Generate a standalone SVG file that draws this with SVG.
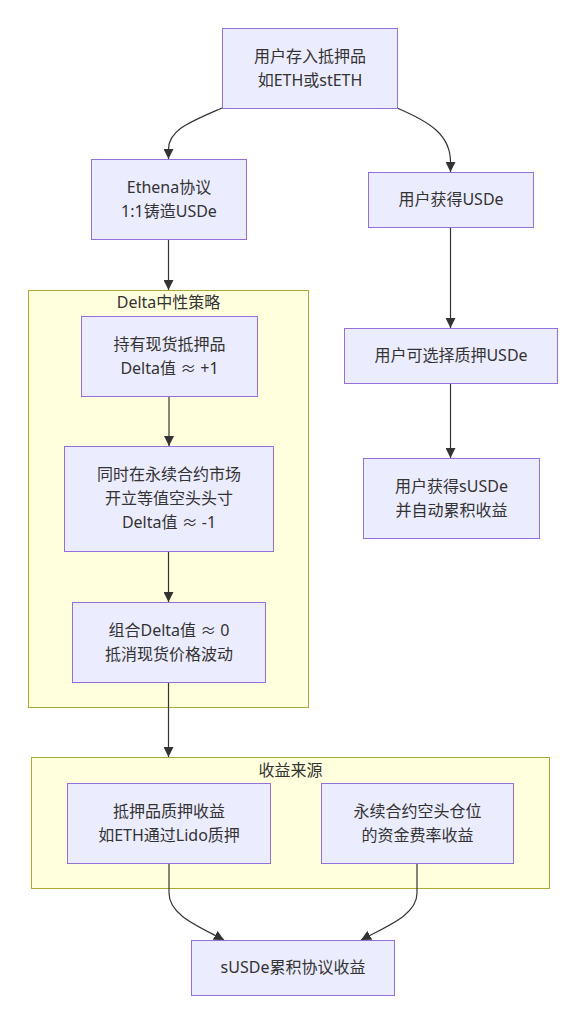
<svg xmlns="http://www.w3.org/2000/svg" width="586" height="1024" viewBox="0 0 586 1024">
<defs>
<marker id="arrow" markerUnits="userSpaceOnUse" markerWidth="10" markerHeight="10" viewBox="0 0 10 10" refX="10" refY="5" orient="auto">
<path d="M0,0 L10,5 L0,10 z" fill="#333333"/>
</marker>
<style>
.node rect{fill:#ECECFF;stroke:#9370DB;stroke-width:1;}
.cluster rect{fill:#ffffde;stroke:#aaaa33;stroke-width:1;}
text{font-family:"Noto Sans","Noto Sans CJK SC",sans-serif;font-size:16px;fill:#333333;text-anchor:middle;}
.edges path{fill:none;stroke:#333333;stroke-width:1.2;marker-end:url(#arrow);}
</style>
</defs>
<rect width="586" height="1024" fill="#ffffff"/>
<g id="cluster-delta" class="cluster">
<rect x="28.5" y="290.5" width="280" height="417"/>
<text x="168.5" y="308">Delta中性策略</text>
</g>
<g id="cluster-yield" class="cluster">
<rect x="31.5" y="757.5" width="518" height="131"/>
<text x="290.5" y="776">收益来源</text>
</g>
<g class="edges" id="edges">
<path d="M222,108 C190,122 168,130 168.5,150 L168.5,159"/>
<path d="M397,108 C430,122 451,135 450.5,163 L450.5,172"/>
<path d="M168.5,239 L168.5,290"/>
<path d="M169,396 L169,446"/>
<path d="M168.5,551 L168.5,602"/>
<path d="M168.5,682 L168.5,757"/>
<path d="M450.5,227 L450.5,328"/>
<path d="M450.5,383 L450.5,458"/>
<path d="M169,863 L169,893 C169,915 198,926 224,940"/>
<path d="M417,863 L417,893 C417,915 387,926 361,940"/>
</g>
<g id="A" class="node">
<rect x="222.5" y="28.5" width="175" height="80"/>
<text x="310" y="62">用户存入抵押品</text>
<text x="310" y="86">如ETH或stETH</text>
</g>
<g id="B" class="node">
<rect x="91.5" y="159.5" width="155" height="80"/>
<text x="169" y="193">Ethena协议</text>
<text x="169" y="217">1:1铸造USDe</text>
</g>
<g id="C" class="node">
<rect x="368.5" y="172.5" width="165" height="55"/>
<text x="451" y="205">用户获得USDe</text>
</g>
<g id="D" class="node">
<rect x="81.5" y="316.5" width="176" height="80"/>
<text x="169.5" y="350">持有现货抵押品</text>
<text x="169.5" y="374">Delta值 ≈ +1</text>
</g>
<g id="E" class="node">
<rect x="64.5" y="446.5" width="209" height="105"/>
<text x="169" y="480">同时在永续合约市场</text>
<text x="169" y="504">开立等值空头头寸</text>
<text x="169" y="528">Delta值 ≈ -1</text>
</g>
<g id="F" class="node">
<rect x="72.5" y="602.5" width="193" height="80"/>
<text x="169" y="636">组合Delta值 ≈ 0</text>
<text x="169" y="660">抵消现货价格波动</text>
</g>
<g id="G" class="node">
<rect x="344.5" y="328.5" width="213" height="55"/>
<text x="451" y="361">用户可选择质押USDe</text>
</g>
<g id="H" class="node">
<rect x="363.5" y="458.5" width="176" height="80"/>
<text x="451.5" y="492">用户获得sUSDe</text>
<text x="451.5" y="516">并自动累积收益</text>
</g>
<g id="I" class="node">
<rect x="67.5" y="783.5" width="203" height="80"/>
<text x="169" y="817">抵押品质押收益</text>
<text x="169" y="841">如ETH通过Lido质押</text>
</g>
<g id="J" class="node">
<rect x="321.5" y="783.5" width="192" height="80"/>
<text x="417.5" y="817">永续合约空头仓位</text>
<text x="417.5" y="841">的资金费率收益</text>
</g>
<g id="K" class="node">
<rect x="191.5" y="940.5" width="203" height="55"/>
<text x="293" y="973">sUSDe累积协议收益</text>
</g>
</svg>
